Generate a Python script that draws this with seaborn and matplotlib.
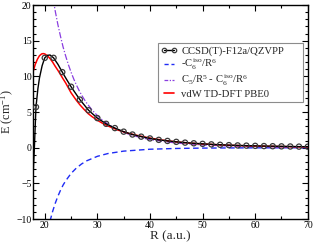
import numpy as np
import pandas as pd
import matplotlib
matplotlib.use("Agg")
import matplotlib.pyplot as plt
from matplotlib.lines import Line2D
from matplotlib.ticker import MultipleLocator
import seaborn as sns

# ---- data ----
R_ccsd = [18.33, 20.00, 21.67, 23.33, 25.00, 26.67, 28.33, 30.00, 31.67, 33.33,
          35.00, 36.67, 38.33, 40.00, 41.67, 43.33, 45.00, 46.67, 48.33, 50.00,
          51.67, 53.33, 55.00, 56.67, 58.33, 60.00, 61.67, 63.33, 65.00, 66.67,
          68.33, 70.00]
E_ccsd = [5.7, 12.6, 12.6, 10.6, 8.55, 6.75, 5.25, 4.15, 3.35, 2.75,
          2.25, 1.85, 1.55, 1.30, 1.10, 0.95, 0.82, 0.71, 0.62, 0.54,
          0.47, 0.41, 0.36, 0.32, 0.29, 0.26, 0.23, 0.21, 0.19, 0.17,
          0.15, 0.14]

# smooth black curve through the CCSD(T) points
R_ccsd_line = [17.8, 18.0, 18.33, 18.7, 19.0, 19.5, 20.0, 20.5, 21.0, 21.67,
               22.5, 23.33, 24.17, 25.00, 26.67, 28.33, 30.00, 31.67, 33.33,
               35.00, 36.67, 38.33, 40.00, 41.67, 43.33, 45.00, 46.67, 48.33,
               50.00, 51.67, 53.33, 55.00, 56.67, 58.33, 60.00, 61.67, 63.33,
               65.00, 66.67, 68.33, 70.00]
E_ccsd_line = [-3.6, -0.5, 5.7, 8.3, 9.8, 11.5, 12.6, 12.95, 13.0, 12.6,
               11.7, 10.6, 9.55, 8.55, 6.75, 5.25, 4.15, 3.35, 2.75,
               2.25, 1.85, 1.55, 1.30, 1.10, 0.95, 0.82, 0.71, 0.62,
               0.54, 0.47, 0.41, 0.36, 0.32, 0.29, 0.26, 0.23, 0.21,
               0.19, 0.17, 0.15, 0.14]

# -C6iso/R^6
R_c6 = [21.0, 21.5, 22.0, 22.5, 23.0, 23.5, 24.0, 25.0, 26.0, 27.0, 28.0,
        30.0, 32.0, 35.0, 40.0, 45.0, 50.0, 55.0, 60.0, 70.0]
E_c6 = [-10.28, -8.93, -7.78, -6.80, -5.96, -5.22, -4.62, -3.61, -2.86, -2.28,
        -1.83, -1.21, -0.82, -0.48, -0.215, -0.106, -0.056, -0.032, -0.019,
        -0.0075]

# C5/R^5 - C6iso/R^6
R_c5c6 = [21.3, 21.5, 22.0, 22.5, 23.0, 23.5, 24.0, 24.5, 25.0, 25.5, 26.0,
          26.5, 27.0, 27.5, 28.0, 29.0, 30.0, 31.0, 32.0, 33.0, 34.0, 35.0,
          36.0, 38.0, 40.0, 45.0, 50.0, 55.0, 60.0, 65.0, 70.0]
E_c5c6 = [22.2, 21.26, 19.13, 17.25, 15.59, 14.08, 12.80, 11.63, 10.59, 9.65,
          8.82, 8.06, 7.39, 6.78, 6.23, 5.28, 4.50, 3.85, 3.31, 2.86, 2.48,
          2.16, 1.89, 1.46, 1.14, 0.65, 0.39, 0.24, 0.16, 0.11, 0.075]

# vdW TD-DFT PBE0
R_vdw = [17.8, 18.2, 18.6, 19.0, 19.4, 19.7, 20.0, 20.5, 21.0, 21.5, 22.0,
         22.5, 23.0, 23.4, 24.0, 25.0, 26.0, 26.7, 27.5, 28.3, 29.0, 30.0,
         31.0, 32.0, 34.0, 36.0, 38.0, 40.0, 42.5, 45.0, 47.5, 50.0, 55.0,
         60.0, 65.0, 70.0]
E_vdw = [10.7, 11.7, 12.4, 12.9, 13.15, 13.2, 13.15, 12.9, 12.5, 12.0, 11.4,
         10.85, 10.25, 9.75, 9.05, 7.7, 6.65, 6.0, 5.35, 4.75, 4.35, 3.85,
         3.42, 3.05, 2.45, 2.0, 1.65, 1.35, 1.05, 0.82, 0.65, 0.52, 0.34,
         0.23, 0.16, 0.11]

labels = ["CCSD(T)-F12a/QZVPP",
          r"-C$_6^{\,\mathrm{iso}}$/R$^6$",
          r"C$_5$/R$^5$ - C$_6^{\,\mathrm{iso}}$/R$^6$",
          "vdW TD-DFT PBE0"]

# ---- style ----
sns.set_theme(style="ticks")
plt.rcParams["font.family"] = ["Liberation Serif", "DejaVu Serif"]
plt.rcParams["mathtext.fontset"] = "custom"
plt.rcParams["mathtext.rm"] = "Liberation Serif"
plt.rcParams["mathtext.it"] = "Liberation Serif:italic"
plt.rcParams["mathtext.default"] = "regular"

BLACK = "#000000"
BLUE = "#1f2cf5"
PURPLE = "#8a3ee0"
RED = "#ff0000"

fig = plt.figure(figsize=(3.16, 2.42), dpi=100)
ax = fig.add_axes([0.105, 0.095, 0.869, 0.884])

sns.lineplot(x=R_c6, y=E_c6, ax=ax, color=BLUE, lw=1.0, sort=False,
             estimator=None, dashes=False, linestyle=(0, (4, 2.5)))
sns.lineplot(x=R_c5c6, y=E_c5c6, ax=ax, color=PURPLE, lw=0.9, sort=False,
             estimator=None, linestyle=(0, (5, 1.5, 1, 1.5)))
sns.lineplot(x=R_vdw, y=E_vdw, ax=ax, color=RED, lw=1.1, sort=False,
             estimator=None)
sns.lineplot(x=R_ccsd_line, y=E_ccsd_line, ax=ax, color=BLACK, lw=1.0,
             sort=False, estimator=None)
sns.scatterplot(x=R_ccsd, y=E_ccsd, ax=ax, marker="o", s=14,
                facecolor="none", edgecolor="#3a3a3a", linewidth=0.9,
                zorder=5)

ax.set_xlim(17.8, 70)
ax.set_ylim(-10, 20)
ax.xaxis.set_major_locator(MultipleLocator(10))
ax.xaxis.set_minor_locator(MultipleLocator(5))
ax.yaxis.set_major_locator(MultipleLocator(5))
ax.yaxis.set_minor_locator(MultipleLocator(1))
ax.tick_params(which="both", direction="in", top=True, right=True,
               labelsize=7.0, width=0.8, colors="black")
ax.tick_params(axis="y", which="both", pad=1.2)
ax.tick_params(axis="x", which="both", pad=1.5)
ax.tick_params(which="major", length=4)
ax.tick_params(which="minor", length=2)
for s in ax.spines.values():
    s.set_linewidth(1.0)
    s.set_color("black")

ax.set_xlabel("R (a.u.)", fontsize=9.5, labelpad=0)
ax.set_ylabel(r"E (cm$^{-1}$)", fontsize=8.8, labelpad=0.5)

handles = [
    Line2D([], [], color=BLACK, lw=1.0, marker="o", ms=3.2, mfc="none",
           mec="#3a3a3a", mew=0.9),
    Line2D([], [], color=BLUE, lw=1.0, linestyle=(0, (3, 2))),
    Line2D([], [], color=PURPLE, lw=0.9, linestyle=(0, (3, 1.2, 1, 1.2))),
    Line2D([], [], color=RED, lw=1.2),
]
leg = ax.legend(handles, labels, loc="upper left",
                bbox_to_anchor=(0.4555, 0.822, 0.527, 0.0), mode="expand",
                fontsize=7.7, frameon=True, fancybox=False,
                edgecolor="#8c8c8c", framealpha=1.0, borderaxespad=0,
                handlelength=1.5, handletextpad=0.4, labelspacing=0.12,
                borderpad=0.25, numpoints=2)
leg.get_frame().set_linewidth(0.8)

fig.savefig("out.png", dpi=100)
